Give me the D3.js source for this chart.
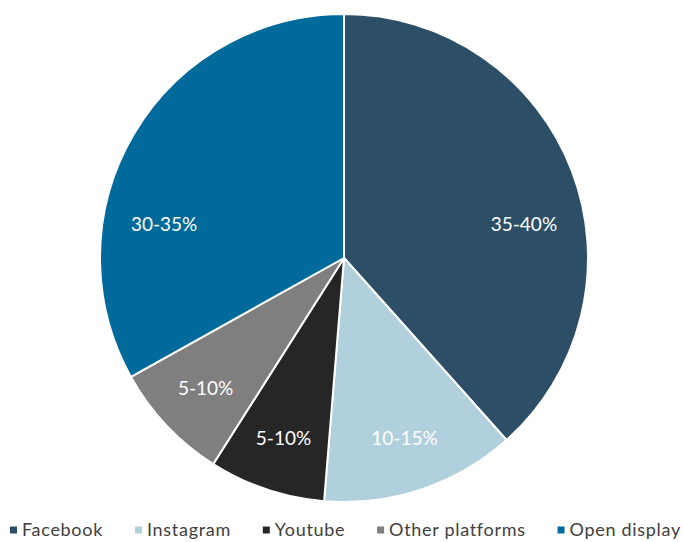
<!DOCTYPE html>
<html>
<head>
<meta charset="utf-8">
<script src="https://cdn.jsdelivr.net/npm/d3@7"></script>
<style>
  html, body { margin: 0; padding: 0; background: #fff; }
  svg { display: block; }
  text { font-family: Lato, "Noto Sans", sans-serif; }
</style>
</head>
<body>
<svg id="chart" width="683" height="542"></svg>
<script>
// Datos (lectura aproximada del gráfico)
var categories = ['Facebook', 'Instagram', 'Youtube', 'Other platforms', 'Open display'];
var shares = [38.4, 12.9, 7.7, 7.9, 33.1];
var labels = ['35-40%', '10-15%', '5-10%', '5-10%', '30-35%'];
var colors = ['#2c4f67', '#afd0dc', '#262626', '#7f7f7f', '#006a9a'];

var width = 683, height = 542;
var cx = 344, cy = 258, radius = 244;

var svg = d3.select('#chart');

var data = categories.map(function (c, i) {
  return { name: c, value: shares[i], label: labels[i], color: colors[i] };
});

var pie = d3.pie()
  .sort(null)
  .value(function (d) { return d.value; });

var arc = d3.arc()
  .innerRadius(0)
  .outerRadius(radius);

var g = svg.append('g')
  .attr('transform', 'translate(' + cx + ',' + cy + ')');

var slices = g.selectAll('g.slice')
  .data(pie(data))
  .enter()
  .append('g')
  .attr('class', 'slice');

slices.append('path')
  .attr('d', arc)
  .attr('fill', function (d) { return d.data.color; })
  .attr('stroke', '#fff')
  .attr('stroke-width', 2)
  .attr('stroke-linejoin', 'round');

// Etiquetas: en rebanadas grandes van un poco por encima del eje horizontal
var tilt = 10.5 * Math.PI / 180;
slices.append('text')
  .attr('transform', function (d) {
    var mid = (d.startAngle + d.endAngle) / 2;
    var span = d.endAngle - d.startAngle;
    var r = radius * 0.78;
    if (span > Math.PI / 2) {
      mid = mid < Math.PI ? Math.PI / 2 - tilt : 3 * Math.PI / 2 + tilt;
      r = radius * 0.75;
    }
    var x = Math.sin(mid) * r;
    var y = -Math.cos(mid) * r;
    return 'translate(' + x + ',' + y + ')';
  })
  .attr('text-anchor', 'middle')
  .attr('dy', '0.35em')
  .attr('fill', '#fff')
  .style('font-size', '19px')
  .text(function (d) { return d.data.label; });

// Leyenda
var legendY = 530, legendLeft = 10, legendRight = 681;
var markSize = 7, markGap = 5;

var legend = svg.append('g').attr('class', 'legend');
var items = legend.selectAll('g.item')
  .data(data)
  .enter()
  .append('g')
  .attr('class', 'item');

items.append('rect')
  .attr('width', markSize)
  .attr('height', markSize)
  .attr('y', -markSize / 2)
  .attr('fill', function (d) { return d.color; });

items.append('text')
  .attr('x', markSize + markGap)
  .attr('dy', '0.35em')
  .attr('fill', '#404040')
  .style('font-size', '18px')
  .style('letter-spacing', '0.7px')
  .text(function (d) { return d.name; });

var widths = [];
items.each(function () { widths.push(this.getBBox().width); });
var total = d3.sum(widths);
var gap = (legendRight - legendLeft - total) / (widths.length - 1);
var x = legendLeft;
items.attr('transform', function (d, i) {
  var t = 'translate(' + x + ',' + legendY + ')';
  x += widths[i] + gap;
  return t;
});
</script>
</body>
</html>
